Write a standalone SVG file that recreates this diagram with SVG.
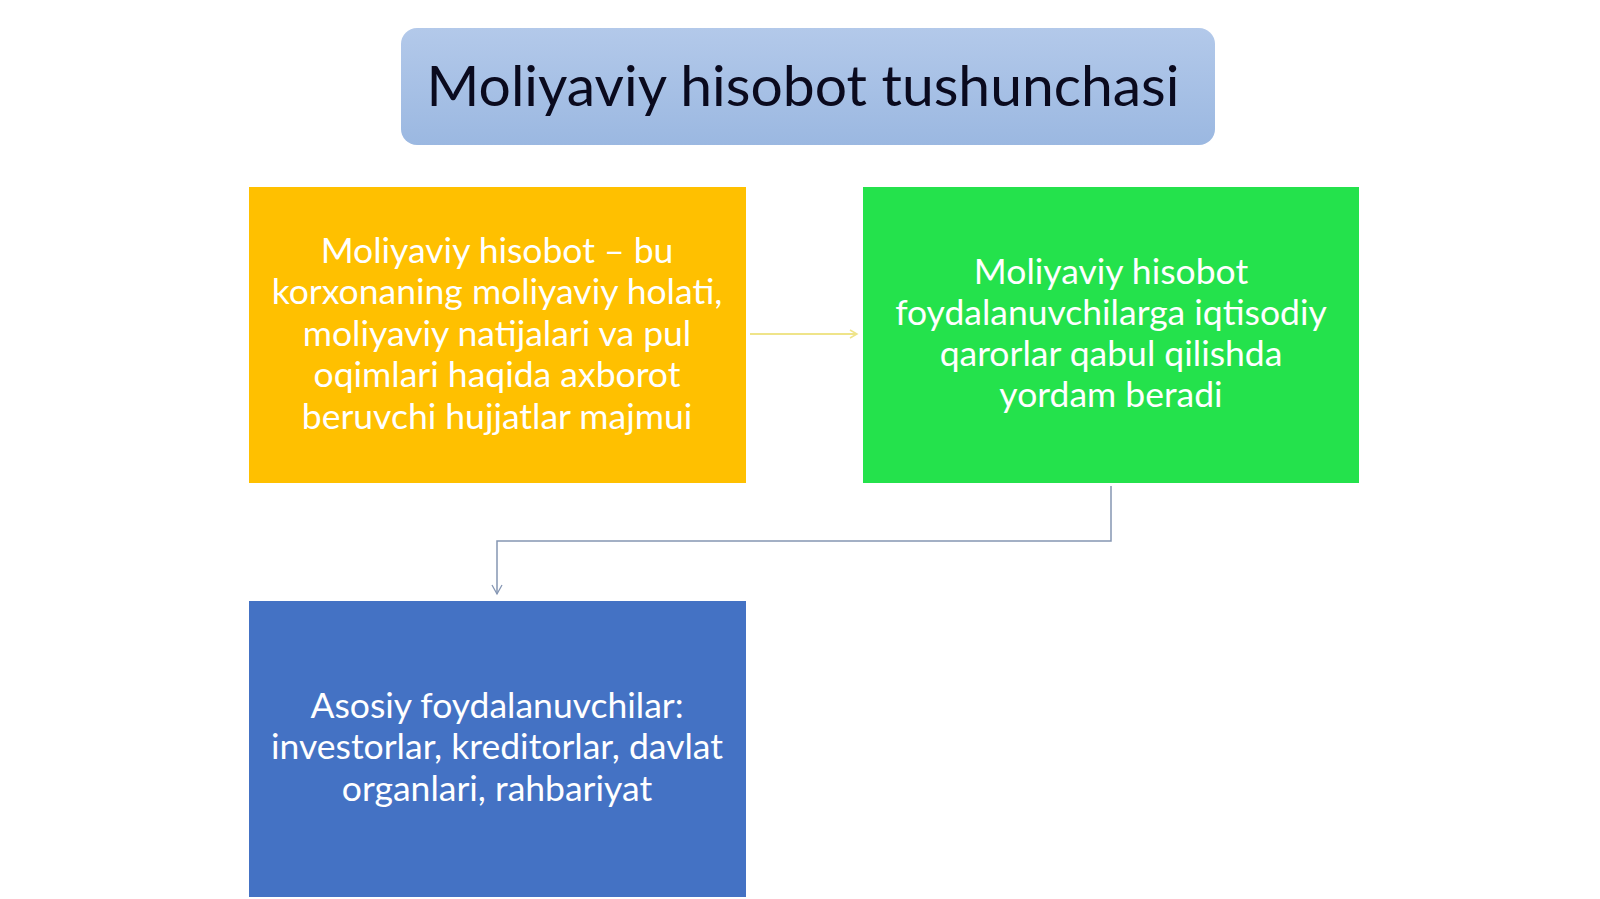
<svg xmlns="http://www.w3.org/2000/svg" width="1600" height="899" viewBox="0 0 1600 899">
<defs>
<linearGradient id="tg" x1="0" y1="0" x2="0" y2="1">
<stop offset="0" stop-color="#b3c9ea"/>
<stop offset="1" stop-color="#9bb8e1"/>
</linearGradient>
<marker id="ay" markerWidth="10" markerHeight="10" refX="8" refY="5" orient="auto" markerUnits="userSpaceOnUse">
<path d="M1,1 L8,5 L1,9" fill="none" stroke="#efe48a" stroke-width="1.5"/>
</marker>
<marker id="ab" markerWidth="12" markerHeight="12" refX="10" refY="6" orient="auto" markerUnits="userSpaceOnUse">
<path d="M1,1 L10,6 L1,11" fill="none" stroke="#8596b3" stroke-width="1.3"/>
</marker>
</defs>
<style>
.t{font-family:Lato,"Noto Sans","Liberation Sans",sans-serif;fill:#ffffff;font-size:35.5px;text-anchor:middle}
.h{font-family:Lato,"Noto Sans","Liberation Sans",sans-serif;fill:#0a0a1e;font-size:57px;text-anchor:middle}
</style>
<rect width="1600" height="899" fill="#ffffff"/>
<g id="title">
<rect x="401" y="28" width="814" height="117" rx="16" fill="url(#tg)"/>
<text class="h" x="803" y="106">Moliyaviy hisobot tushunchasi</text>
</g>
<g id="definition">
<rect x="249" y="187" width="497" height="296" fill="#ffc000"/>
<text class="t" x="497" y="263">Moliyaviy hisobot – bu</text>
<text class="t" x="497" y="304">korxonaning moliyaviy holati,</text>
<text class="t" x="497" y="346">moliyaviy natijalari va pul</text>
<text class="t" x="497" y="387">oqimlari haqida axborot</text>
<text class="t" x="497" y="429">beruvchi hujjatlar majmui</text>
</g>
<g id="purpose">
<rect x="863" y="187" width="496" height="296" fill="#24e24c"/>
<text class="t" x="1111" y="284">Moliyaviy hisobot</text>
<text class="t" x="1111" y="325">foydalanuvchilarga iqtisodiy</text>
<text class="t" x="1111" y="366">qarorlar qabul qilishda</text>
<text class="t" x="1111" y="407">yordam beradi</text>
</g>
<g id="users">
<rect x="249" y="601" width="497" height="296" fill="#4472c4"/>
<text class="t" x="497" y="718">Asosiy foydalanuvchilar:</text>
<text class="t" x="497" y="759">investorlar, kreditorlar, davlat</text>
<text class="t" x="497" y="801">organlari, rahbariyat</text>
</g>
<g id="connectors" fill="none">
<path d="M750,334 L857,334" stroke="#efe48a" stroke-width="2" marker-end="url(#ay)"/>
<path d="M1111,486 L1111,541 L497,541 L497,594" stroke="#8596b3" stroke-width="1.5" marker-end="url(#ab)"/>
</g>
</svg>
